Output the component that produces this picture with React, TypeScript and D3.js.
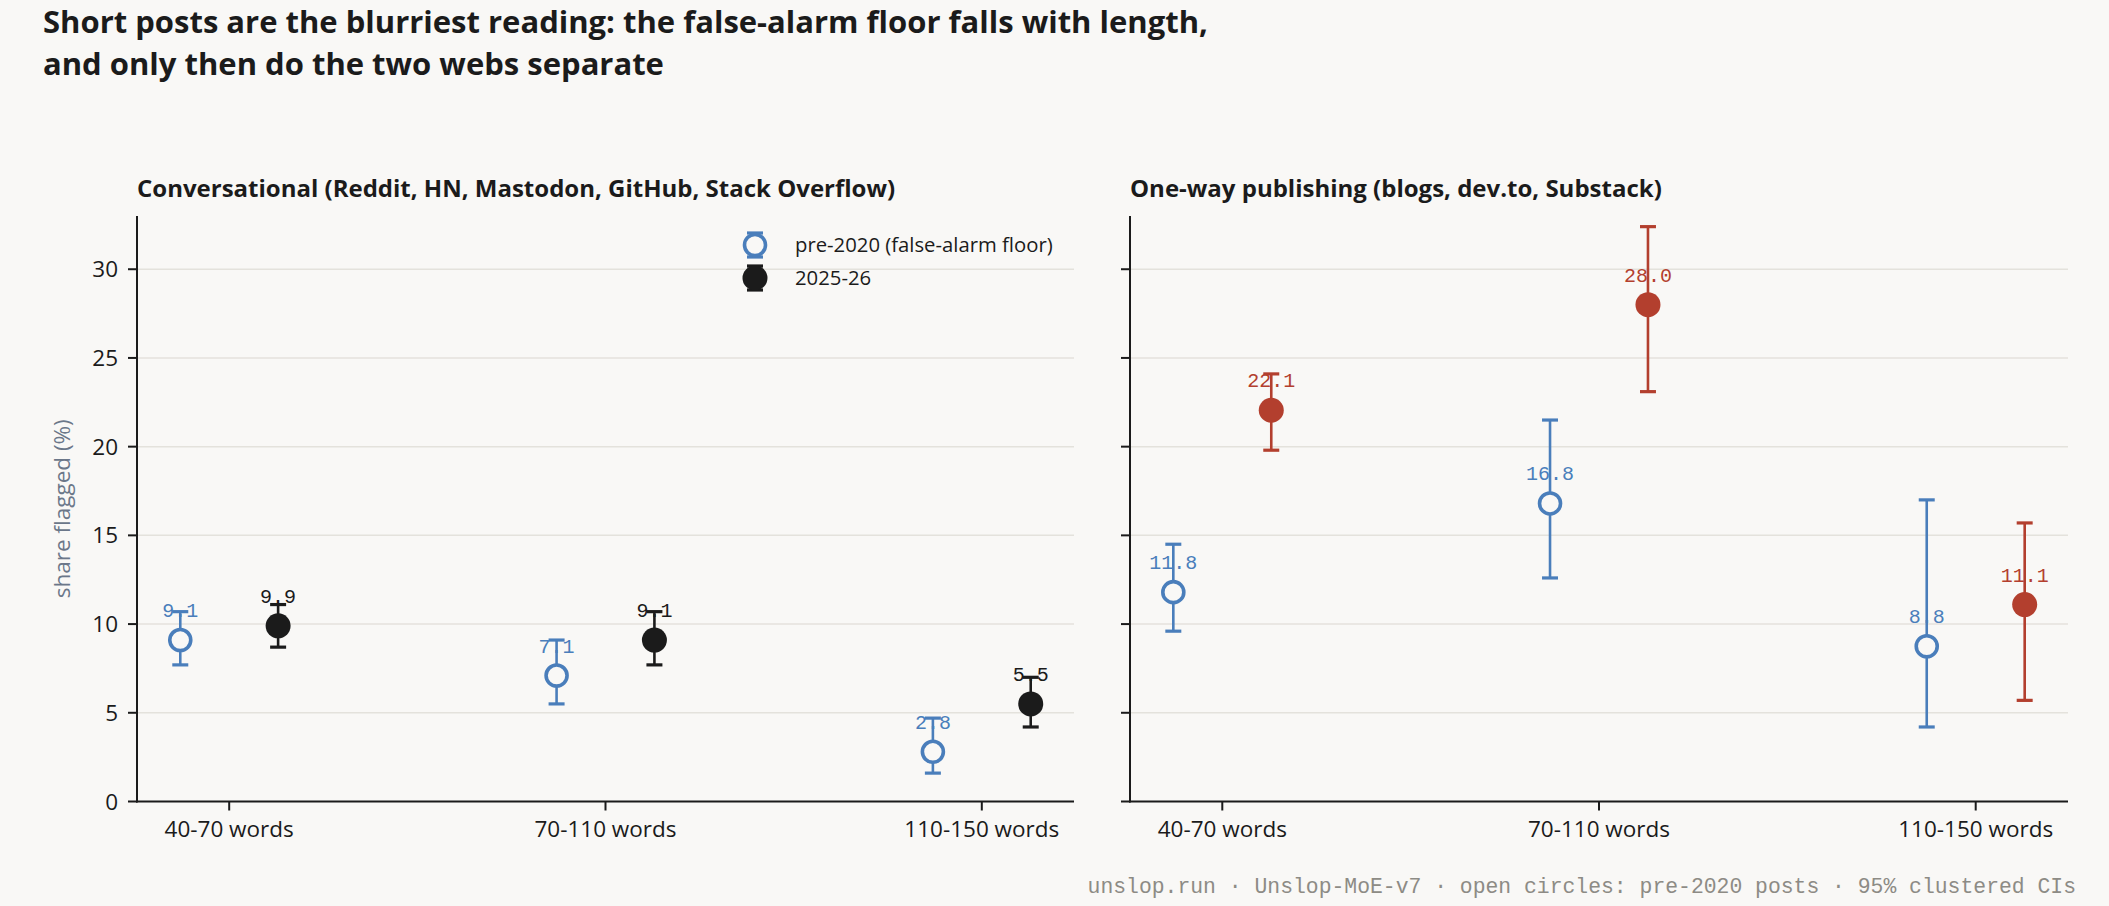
import React, { useEffect } from "react";
import * as d3 from "d3";

// ---------- data ----------
const categories = ["40-70 words", "70-110 words", "110-150 words"];
const panelTitles = [
  "Conversational (Reddit, HN, Mastodon, GitHub, Stack Overflow)",
  "One-way publishing (blogs, dev.to, Substack)",
];
const seriesNames = ["pre-2020 (false-alarm floor)", "2025-26"];

// Conversational
const convPre = [9.1, 7.1, 2.8];
const convPreLo = [7.7, 5.5, 1.6];
const convPreHi = [10.7, 9.1, 4.7];
const convNow = [9.9, 9.1, 5.5];
const convNowLo = [8.7, 7.7, 4.2];
const convNowHi = [11.1, 10.7, 7.0];

// One-way publishing
const pubPre = [11.8, 16.8, 8.75];
const pubPreLo = [9.6, 12.6, 4.2];
const pubPreHi = [14.5, 21.5, 17.0];
const pubNow = [22.05, 28.0, 11.1];
const pubNowLo = [19.8, 23.1, 5.7];
const pubNowHi = [24.1, 32.4, 15.7];

const yTicks = [0, 5, 10, 15, 20, 25, 30];
const yDomain = [0, 33];

const title1 = "Short posts are the blurriest reading: the false-alarm floor falls with length,";
const title2 = "and only then do the two webs separate";
const yLabel = "share flagged (%)";
const footer = "unslop.run · Unslop-MoE-v7 · open circles: pre-2020 posts · 95% clustered CIs";

// ---------- style ----------
const W = 2109;
const H = 906;
const BG = "#f9f8f6";
const BLUE = "#4a7ebb";
const BLACK = "#1b1b1b";
const RED = "#b33f2e";
const GRID = "#e4e2dc";
const INK = "#1b1b1b";
const SANS = "'Open Sans', 'Noto Sans', sans-serif";
const MONO = "'Liberation Mono', 'DejaVu Sans Mono', monospace";

const panels = [
  {
    title: panelTitles[0],
    x0: 137, x1: 1074,
    pre: convPre, preLo: convPreLo, preHi: convPreHi,
    now: convNow, nowLo: convNowLo, nowHi: convNowHi,
    nowColor: BLACK, showYLabels: true, legend: true,
  },
  {
    title: panelTitles[1],
    x0: 1130, x1: 2068,
    pre: pubPre, preLo: pubPreLo, preHi: pubPreHi,
    now: pubNow, nowLo: pubNowLo, nowHi: pubNowHi,
    nowColor: RED, showYLabels: false, legend: false,
  },
];

const yTop = 216;
const yBot = 801.5;
const OFF = 0.13;

function ErrBar({ x, lo, hi, color }: { x: number; lo: number; hi: number; color: string }) {
  const cw = 8;
  return (
    <g stroke={color} strokeWidth={2.6}>
      <line x1={x} x2={x} y1={lo} y2={hi} />
      <line x1={x - cw} x2={x + cw} y1={lo} y2={lo} strokeWidth={3.2} />
      <line x1={x - cw} x2={x + cw} y1={hi} y2={hi} strokeWidth={3.2} />
    </g>
  );
}

function Panel(p: any) {
  const y = d3.scaleLinear().domain(yDomain).range([yBot, yTop]);
  const x = d3.scaleLinear().domain([-0.245, 2.245]).range([p.x0, p.x1]);
  const idx = d3.range(categories.length);
  return (
    <g>
      <text x={p.x0} y={197} fontFamily={SANS} fontWeight={700} fontSize={24} fill={INK}>
        {p.title}
      </text>
      {/* grid */}
      {yTicks.filter((t) => t > 0).map((t) => (
        <line key={t} x1={p.x0} x2={p.x1} y1={y(t)} y2={y(t)} stroke={GRID} strokeWidth={1.5} />
      ))}
      {/* y axis */}
      <line x1={p.x0} x2={p.x0} y1={yTop} y2={yBot + 1} stroke={INK} strokeWidth={2} />
      {yTicks.map((t) => (
        <g key={t}>
          <line x1={p.x0 - 9} x2={p.x0} y1={y(t)} y2={y(t)} stroke={INK} strokeWidth={2} />
          {p.showYLabels && (
            <text x={p.x0 - 19} y={y(t)} dy="0.36em" textAnchor="end" fontFamily={SANS} fontSize={22.5} fill={INK}>
              {t}
            </text>
          )}
        </g>
      ))}
      {/* x axis */}
      <line x1={p.x0 - 1} x2={p.x1} y1={yBot} y2={yBot} stroke={INK} strokeWidth={2} />
      {idx.map((i) => (
        <g key={i}>
          <line x1={x(i)} x2={x(i)} y1={yBot} y2={yBot + 9} stroke={INK} strokeWidth={2} />
          <text x={x(i)} y={837} textAnchor="middle" fontFamily={SANS} fontSize={22.5} fill={INK}>
            {categories[i]}
          </text>
        </g>
      ))}
      {/* value labels (under bars) */}
      {idx.map((i) => (
        <g key={"l" + i} fontFamily={MONO} fontSize={20} textAnchor="middle">
          <text x={x(i - OFF)} y={y(p.pre[i]) - 23} fill={BLUE}>{p.pre[i].toFixed(1)}</text>
          <text x={x(i + OFF)} y={y(p.now[i]) - 23} fill={p.nowColor}>{p.now[i].toFixed(1)}</text>
        </g>
      ))}
      {/* error bars and points */}
      {idx.map((i) => (
        <g key={"p" + i}>
          <ErrBar x={x(i - OFF)} lo={y(p.preLo[i])} hi={y(p.preHi[i])} color={BLUE} />
          <circle cx={x(i - OFF)} cy={y(p.pre[i])} r={10.5} fill={BG} stroke={BLUE} strokeWidth={3.6} />
          <ErrBar x={x(i + OFF)} lo={y(p.nowLo[i])} hi={y(p.nowHi[i])} color={p.nowColor} />
          <circle cx={x(i + OFF)} cy={y(p.now[i])} r={12.5} fill={p.nowColor} />
        </g>
      ))}
      {p.legend && (
        <g fontFamily={SANS} fontSize={20.3} fill={INK}>
          <ErrBar x={755} lo={257} hi={233} color={BLUE} />
          <circle cx={755} cy={245} r={10.5} fill={BG} stroke={BLUE} strokeWidth={3.6} />
          <text x={795} y={245} dy="0.35em">{seriesNames[0]}</text>
          <ErrBar x={755} lo={290} hi={266} color={BLACK} />
          <circle cx={755} cy={278} r={12.5} fill={BLACK} />
          <text x={795} y={278} dy="0.35em">{seriesNames[1]}</text>
        </g>
      )}
    </g>
  );
}

export default function App() {
  useEffect(() => {
    document.body.style.margin = "0";
    document.body.style.background = BG;
  }, []);
  return (
    <svg width={W} height={H} style={{ display: "block", background: BG }}>
      <rect width={W} height={H} fill={BG} />
      <g fontFamily={SANS} fontWeight={700} fontSize={31} fill={INK}>
        <text x={43} y={33}>{title1}</text>
        <text x={43} y={75}>{title2}</text>
      </g>
      <text
        transform={`translate(70,${(yTop + yBot) / 2}) rotate(-90)`}
        textAnchor="middle"
        fontFamily={SANS}
        fontSize={22.5}
        fill="#6b7789"
      >
        {yLabel}
      </text>
      {panels.map((p, i) => (
        <Panel key={i} {...p} />
      ))}
      <text x={2076} y={893} textAnchor="end" fontFamily={MONO} fontSize={21.4} fill="#8d8b85">
        {footer}
      </text>
    </svg>
  );
}
